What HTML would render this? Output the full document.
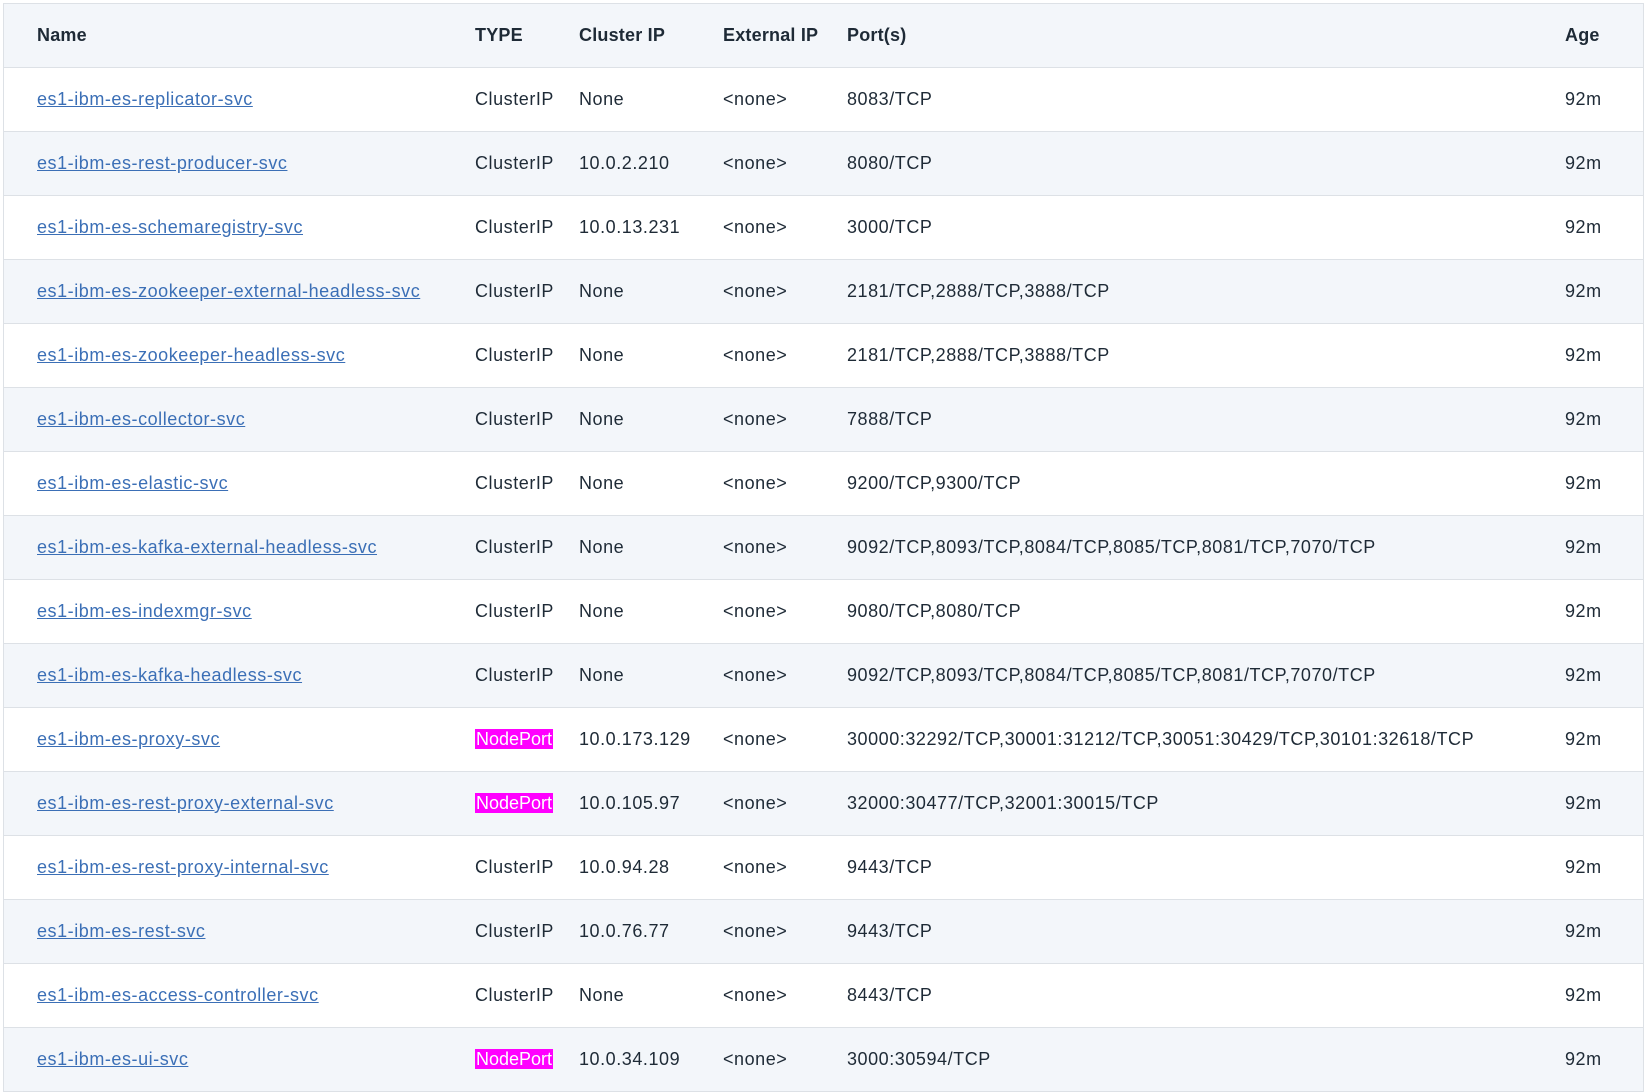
<!DOCTYPE html>
<html><head><style>
body{margin:0;background:#fff;width:1646px;height:1092px;overflow:hidden;font-family:"Liberation Sans",sans-serif;}
table{position:absolute;left:3px;top:3px;width:1641px;border-collapse:collapse;border:1px solid #dde1e6;}
td,th{height:63px;padding:0;font-size:18px;color:#1e2a36;text-align:left;white-space:nowrap;border-bottom:1px solid #dde1e6;}
td{letter-spacing:0.55px;}
th{font-weight:bold;background:#f3f6fa;letter-spacing:0.2px;}
tr:nth-child(odd) td{background:#f3f6fa;}
td:first-child,th:first-child{padding-left:33px;width:438px;}
.c2{width:104px}.c3{width:144px}.c4{width:124px}.c5{width:718px}
a{color:#3b6fb6;text-decoration:underline;}
.np{background:#ff00ff;color:#fff;padding:0 1px;letter-spacing:0;}
</style></head><body>
<table>
<tr><th>Name</th><th class="c2">TYPE</th><th class="c3">Cluster IP</th><th class="c4">External IP</th><th class="c5">Port(s)</th><th>Age</th></tr>
<tr><td><a>es1-ibm-es-replicator-svc</a></td><td>ClusterIP</td><td>None</td><td>&lt;none&gt;</td><td>8083/TCP</td><td>92m</td></tr>
<tr><td><a>es1-ibm-es-rest-producer-svc</a></td><td>ClusterIP</td><td>10.0.2.210</td><td>&lt;none&gt;</td><td>8080/TCP</td><td>92m</td></tr>
<tr><td><a>es1-ibm-es-schemaregistry-svc</a></td><td>ClusterIP</td><td>10.0.13.231</td><td>&lt;none&gt;</td><td>3000/TCP</td><td>92m</td></tr>
<tr><td><a>es1-ibm-es-zookeeper-external-headless-svc</a></td><td>ClusterIP</td><td>None</td><td>&lt;none&gt;</td><td>2181/TCP,2888/TCP,3888/TCP</td><td>92m</td></tr>
<tr><td><a>es1-ibm-es-zookeeper-headless-svc</a></td><td>ClusterIP</td><td>None</td><td>&lt;none&gt;</td><td>2181/TCP,2888/TCP,3888/TCP</td><td>92m</td></tr>
<tr><td><a>es1-ibm-es-collector-svc</a></td><td>ClusterIP</td><td>None</td><td>&lt;none&gt;</td><td>7888/TCP</td><td>92m</td></tr>
<tr><td><a>es1-ibm-es-elastic-svc</a></td><td>ClusterIP</td><td>None</td><td>&lt;none&gt;</td><td>9200/TCP,9300/TCP</td><td>92m</td></tr>
<tr><td><a>es1-ibm-es-kafka-external-headless-svc</a></td><td>ClusterIP</td><td>None</td><td>&lt;none&gt;</td><td>9092/TCP,8093/TCP,8084/TCP,8085/TCP,8081/TCP,7070/TCP</td><td>92m</td></tr>
<tr><td><a>es1-ibm-es-indexmgr-svc</a></td><td>ClusterIP</td><td>None</td><td>&lt;none&gt;</td><td>9080/TCP,8080/TCP</td><td>92m</td></tr>
<tr><td><a>es1-ibm-es-kafka-headless-svc</a></td><td>ClusterIP</td><td>None</td><td>&lt;none&gt;</td><td>9092/TCP,8093/TCP,8084/TCP,8085/TCP,8081/TCP,7070/TCP</td><td>92m</td></tr>
<tr><td><a>es1-ibm-es-proxy-svc</a></td><td><span class="np">NodePort</span></td><td>10.0.173.129</td><td>&lt;none&gt;</td><td>30000:32292/TCP,30001:31212/TCP,30051:30429/TCP,30101:32618/TCP</td><td>92m</td></tr>
<tr><td><a>es1-ibm-es-rest-proxy-external-svc</a></td><td><span class="np">NodePort</span></td><td>10.0.105.97</td><td>&lt;none&gt;</td><td>32000:30477/TCP,32001:30015/TCP</td><td>92m</td></tr>
<tr><td><a>es1-ibm-es-rest-proxy-internal-svc</a></td><td>ClusterIP</td><td>10.0.94.28</td><td>&lt;none&gt;</td><td>9443/TCP</td><td>92m</td></tr>
<tr><td><a>es1-ibm-es-rest-svc</a></td><td>ClusterIP</td><td>10.0.76.77</td><td>&lt;none&gt;</td><td>9443/TCP</td><td>92m</td></tr>
<tr><td><a>es1-ibm-es-access-controller-svc</a></td><td>ClusterIP</td><td>None</td><td>&lt;none&gt;</td><td>8443/TCP</td><td>92m</td></tr>
<tr><td><a>es1-ibm-es-ui-svc</a></td><td><span class="np">NodePort</span></td><td>10.0.34.109</td><td>&lt;none&gt;</td><td>3000:30594/TCP</td><td>92m</td></tr>
</table>
</body></html>
